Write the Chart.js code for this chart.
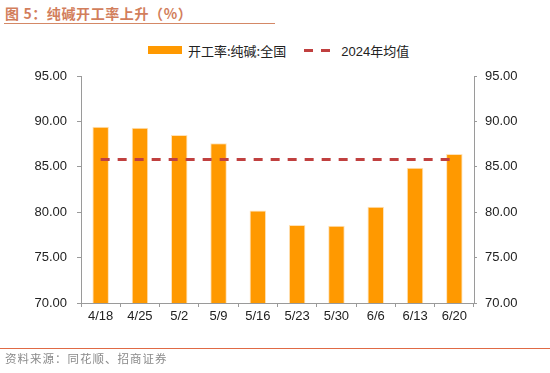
<!DOCTYPE html>
<html>
<head>
<meta charset="utf-8">
<script src="https://cdn.jsdelivr.net/npm/chart.js@4"></script>
<style>
  body { margin: 0; background: #fff; font-family: "Liberation Sans", Arial, sans-serif; }
  #wrap { position: relative; width: 550px; height: 373px; overflow: hidden; }
  #title { position: absolute; left: 5px; top: 3px; font-family: "Noto Sans CJK SC", sans-serif; font-size: 14px; letter-spacing: 0.6px; font-weight: bold; color: #d27e5c; }
  #titleLine { position: absolute; left: 4px; top: 23px; width: 271px; height: 1px; background: #d48866; }
  #legend { position: absolute; top: 39px; left: 148px; font-size: 13px; color: #222; font-family: "Noto Sans CJK SC", sans-serif; white-space: nowrap; }
  .item { display: inline-block; vertical-align: middle; }
  .num { font-family: "Liberation Sans", Arial, sans-serif; }
  .swBar { display: inline-block; width: 34px; height: 8px; background: #ff9900; vertical-align: middle; margin-right: 6px; }
  .swLine { display: inline-block; width: 34px; height: 3px; vertical-align: middle; margin-right: 3px; margin-left: 18px;
            background: repeating-linear-gradient(to right, #c0403f 0 9px, transparent 9px 17px); }
  #footLine { position: absolute; left: 0; top: 348px; width: 550px; height: 1px; background: #e06a45; }
  #source { position: absolute; left: 5px; top: 350px; font-family: "Noto Sans CJK SC", sans-serif; font-size: 11.5px; letter-spacing: 1px; color: #8a8a8a; }
  canvas { position: absolute; left: 0; top: 0; }
</style>
</head>
<body>
<div id="wrap">
  <div id="title">图 5：纯碱开工率上升（%）</div>
  <div id="titleLine"></div>
  <div id="legend">
    <span class="swBar"></span><span class="item">开工率:纯碱:全国</span><span class="swLine"></span><span class="item"><span class="num">2024</span>年均值</span>
  </div>
  <canvas id="myChart" width="550" height="373"></canvas>
  <div id="footLine"></div>
  <div id="source">资料来源：同花顺、招商证券</div>
</div>
<script>
// 数据
var fechas = ["4/18", "4/25", "5/2", "5/9", "5/16", "5/23", "5/30", "6/6", "6/13", "6/20"];
var tasaOperacion = [89.4, 89.3, 88.5, 87.6, 80.2, 78.6, 78.5, 80.6, 84.9, 86.4];
var media2024 = [85.8, 85.8, 85.8, 85.8, 85.8, 85.8, 85.8, 85.8, 85.8, 85.8];
var ticksY = [70, 75, 80, 85, 90, 95];

var gris = '#9a9a9a';
var fuenteTick = { family: '"Liberation Sans", Arial, sans-serif', size: 13 };

var ctx = document.getElementById('myChart').getContext('2d');
var myChart = new Chart(ctx, {
  data: {
    labels: fechas,
    datasets: [{
      type: 'line',
      label: '2024年均值',
      data: media2024,
      borderColor: '#c0403f',
      borderWidth: 3,
      borderDash: [9, 8],
      pointRadius: 0,
      fill: false,
      yAxisID: 'y'
    }, {
      type: 'bar',
      label: '开工率:纯碱:全国',
      data: tasaOperacion,
      backgroundColor: '#ff9900',
      borderColor: '#ffe2b8',
      borderWidth: 1,
      categoryPercentage: 1,
      barPercentage: 0.42,
      yAxisID: 'y'
    }]
  },
  options: {
    responsive: false,
    animation: false,
    layout: { padding: { top: 76, bottom: 40, left: 0, right: 0 } },
    plugins: { legend: { display: false }, tooltip: { enabled: false } },
    scales: {
      x: {
        offset: true,
        grid: { display: true, offset: true, drawOnChartArea: false, drawTicks: true, tickLength: 4, color: gris },
        border: { color: gris },
        ticks: { color: '#222', font: fuenteTick, padding: 2 },
        afterFit: function(s) { s.height = 30; }
      },
      y: {
        position: 'left',
        min: 70, max: 95,
        afterBuildTicks: function(s) { s.ticks = ticksY.map(function(v) { return { value: v }; }); },
        grid: { drawOnChartArea: false, drawTicks: true, tickLength: 4, color: gris },
        border: { color: gris },
        ticks: { color: '#222', font: fuenteTick, padding: 10, callback: function(v) { return v.toFixed(2); } },
        afterFit: function(s) { s.width = 81; }
      },
      y2: {
        position: 'right',
        min: 70, max: 95,
        afterBuildTicks: function(s) { s.ticks = ticksY.map(function(v) { return { value: v }; }); },
        grid: { drawOnChartArea: false, drawTicks: true, tickLength: 3, color: gris },
        border: { color: gris },
        ticks: { color: '#222', font: fuenteTick, padding: 8, callback: function(v) { return v.toFixed(2); } },
        afterFit: function(s) { s.width = 76; }
      }
    }
  }
});
</script>
</body>
</html>
